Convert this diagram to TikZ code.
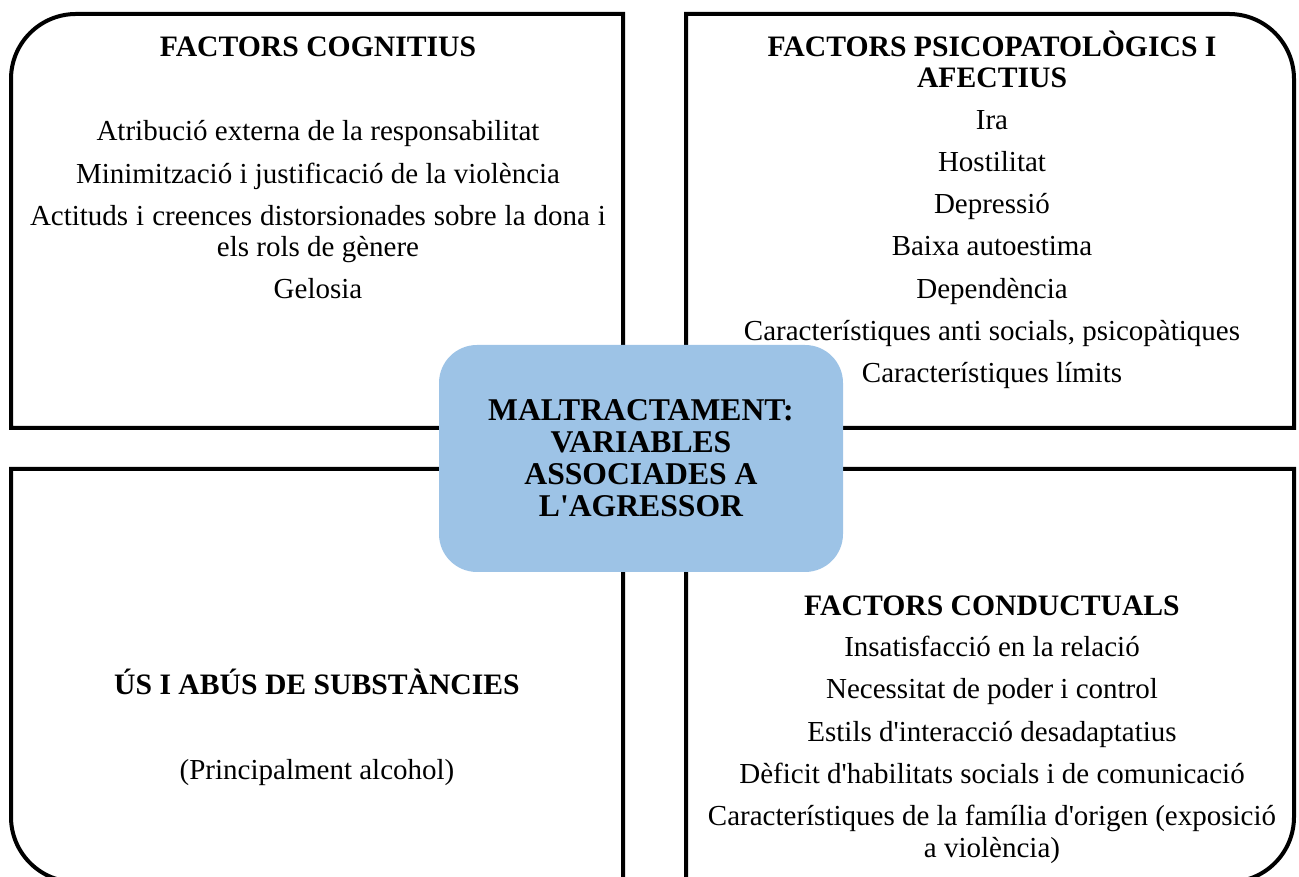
\documentclass[tikz,border=0pt]{standalone}
\usepackage{fontspec}
\setmainfont{Liberation Serif}
\definecolor{centerblue}{RGB}{157,195,230}
\newcommand\sqt{\textquotesingle}
\begin{document}
\begin{tikzpicture}[x=0.75pt,y=0.75pt,
  boxline/.style={line width=3pt, line join=miter},
  txt/.style={anchor=base, inner sep=0pt, font=\fontsize{21.75}{24}\selectfont},
  ttl/.style={anchor=base, inner sep=0pt, font=\fontsize{22.25}{24}\selectfont\bfseries},
  centerbox/.style={rectangle, rounded corners=28.5pt, fill=centerblue, draw=none,
    minimum width=303pt, minimum height=170.25pt, inner sep=0pt, align=center,
    font=\fontsize{23.75}{24}\selectfont\bfseries}
  ]
\useasboundingbox (0,0) rectangle (1299,877);
\clip (0,0) rectangle (1299,877);
% quadrant boxes
\draw[boxline] (623,449) -- (11,449) -- (11,798) arc[start angle=180,end angle=90,radius=48.75pt] -- (623,863) -- cycle;
\draw[boxline] (686,449) -- (686,863) -- (1229,863) arc[start angle=90,end angle=0,radius=48.75pt] -- (1294,449) -- cycle;
\draw[boxline] (623,408) -- (11,408) -- (11,60) arc[start angle=180,end angle=270,radius=48.75pt] -- (623,-5) -- cycle;
\draw[boxline] (686,408) -- (1294,408) -- (1294,60) arc[start angle=0,end angle=-90,radius=48.75pt] -- (686,-5) -- cycle;
% top-left
\node[ttl] (tlt) at (318,820) {FACTORS COGNITIUS};
\node[txt] (tl1) at (318,736) {Atribució externa de la responsabilitat};
\node[txt] (tl2) at (318,693) {Minimització i justificació de la violència};
\node[txt] (tl3a) at (318,651) {\makebox[432pt][s]{Actituds i creences distorsionades sobre la dona i}};
\node[txt] (tl3b) at (318,620) {els rols de gènere};
\node[txt] (tl4) at (318,578) {Gelosia};
% top-right
\node[ttl] (trt1) at (992,820) {FACTORS PSICOPATOLÒGICS I};
\node[ttl] (trt2) at (992,789) {AFECTIUS};
\node[txt] (tr1) at (992,747) {Ira};
\node[txt] (tr2) at (992,705) {Hostilitat};
\node[txt] (tr3) at (992,663) {Depressió};
\node[txt] (tr4) at (992,621) {Baixa autoestima};
\node[txt] (tr5) at (992,578) {Dependència};
\node[txt] (tr6) at (992,536) {Característiques anti socials, psicopàtiques};
\node[txt] (tr7) at (992,494) {Característiques límits};
% bottom-left
\node[ttl] (blt) at (317,182) {ÚS I ABÚS DE SUBSTÀNCIES};
\node[txt] (bl1) at (317,97) {(Principalment alcohol)};
% bottom-right
\node[ttl] (brt) at (992,261) {FACTORS CONDUCTUALS};
\node[txt] (br1) at (992,220) {Insatisfacció en la relació};
\node[txt] (br2) at (992,178) {Necessitat de poder i control};
\node[txt] (br3) at (992,135) {Estils d\sqt interacció desadaptatius};
\node[txt] (br4) at (992,93) {Dèficit d\sqt habilitats socials i de comunicació};
\node[txt] (br5a) at (992,51) {Característiques de la família d\sqt origen (exposició};
\node[txt] (br5b) at (992,19) {a violència)};
% center
\node[centerbox] (center) at (641,418.5) {MALTRACTAMENT:\\VARIABLES\\ASSOCIADES A\\L\sqt AGRESSOR};
\end{tikzpicture}
\end{document}
